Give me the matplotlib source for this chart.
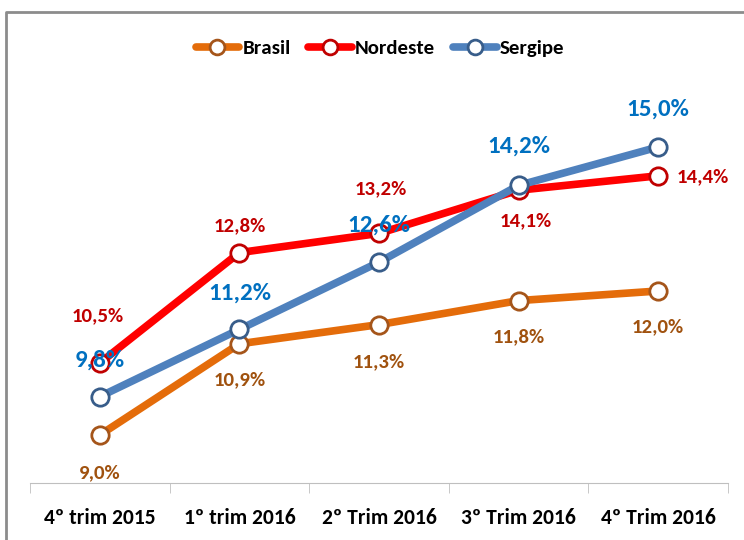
import matplotlib
matplotlib.use('Agg')
import matplotlib.pyplot as plt
from matplotlib import font_manager as fm
from matplotlib.lines import Line2D

# pick a Calibri-like font if one is installed
instaladas = set(f.name for f in fm.fontManager.ttflist)
for fam in ['Carlito', 'Calibri', 'Roboto Condensed', 'Open Sans Condensed', 'Asap Condensed', 'Roboto']:
    if fam in instaladas:
        break
plt.rcParams['font.family'] = [fam, 'DejaVu Sans']

categorias = ['4º trim 2015', '1º trim 2016', '2º Trim 2016', '3º Trim 2016', '4º Trim 2016']
brasil = [9.0, 10.9, 11.3, 11.8, 12.0]
nordeste = [10.5, 12.8, 13.2, 14.1, 14.4]
sergipe = [9.8, 11.2, 12.6, 14.2, 15.0]

# label offsets in points (dx, dy) for each series
off_brasil = [(0, -27), (0, -25.5), (0, -26.5), (0, -26), (0, -26)]
off_nordeste = [(-1.5, 34), (0, 19.5), (1, 32), (5, -22), (32, -1)]
off_sergipe = [(0, 26), (0, 26), (0, 27), (0, 28), (0, 27)]

fig = plt.figure(figsize=(7.44, 5.4), dpi=100)
ax = fig.add_axes([30 / 744, 1 - 483 / 540, 698 / 744, 432 / 540])

x = list(range(len(categorias)))

series = [
    ('Brasil', brasil, '#E46C0A', '#A5551A', '#A0520F', off_brasil, 15),
    ('Nordeste', nordeste, '#FF0000', '#C00000', '#C00000', off_nordeste, 15),
    ('Sergipe', sergipe, '#4F81BD', '#385D8A', '#0070C0', off_sergipe, 18),
]

for nome, vals, cor, borda, cor_txt, offs, fs in series:
    ax.plot(x, vals, color=cor, lw=5.5, marker='o', ms=12.5, mfc='white',
            mec=borda, mew=2, label=nome, solid_capstyle='round')
    for xi, v, (dx, dy) in zip(x, vals, offs):
        ax.annotate(f'{v:.1f}%'.replace('.', ','), (xi, v), xytext=(dx, dy),
                    textcoords='offset points', ha='center', va='center',
                    color=cor_txt, fontsize=fs, fontweight='bold')

ax.set_xlim(-0.5, 4.5)
ax.set_ylim(8, 17)
ax.set_yticks([])
for s in ['left', 'right', 'top']:
    ax.spines[s].set_visible(False)
ax.spines['bottom'].set_color('#BFBFBF')
ax.set_xticks(x)
ax.set_xticklabels(categorias, fontsize=15.5, fontweight='bold')
ax.tick_params(axis='x', which='major', length=0, pad=18)
ax.set_xticks([i - 0.5 for i in range(len(categorias) + 1)], minor=True)
ax.tick_params(axis='x', which='minor', length=7, color='#BFBFBF')

fig.legend(loc='center', bbox_to_anchor=(380 / 744, 1 - 48 / 540), ncol=3,
           frameon=False, handlelength=2.1, handletextpad=0.15, columnspacing=0.85,
           prop={'size': 15, 'weight': 'bold'}, markerscale=0.85)

# outer frame
fig.add_artist(Line2D([6.5 / 744, 6.5 / 744, 1.0], [0, 1 - 12 / 540, 1 - 12 / 540],
                      color='#8C8C8C', lw=2, transform=fig.transFigure))

fig.savefig('out.png', dpi=100)
